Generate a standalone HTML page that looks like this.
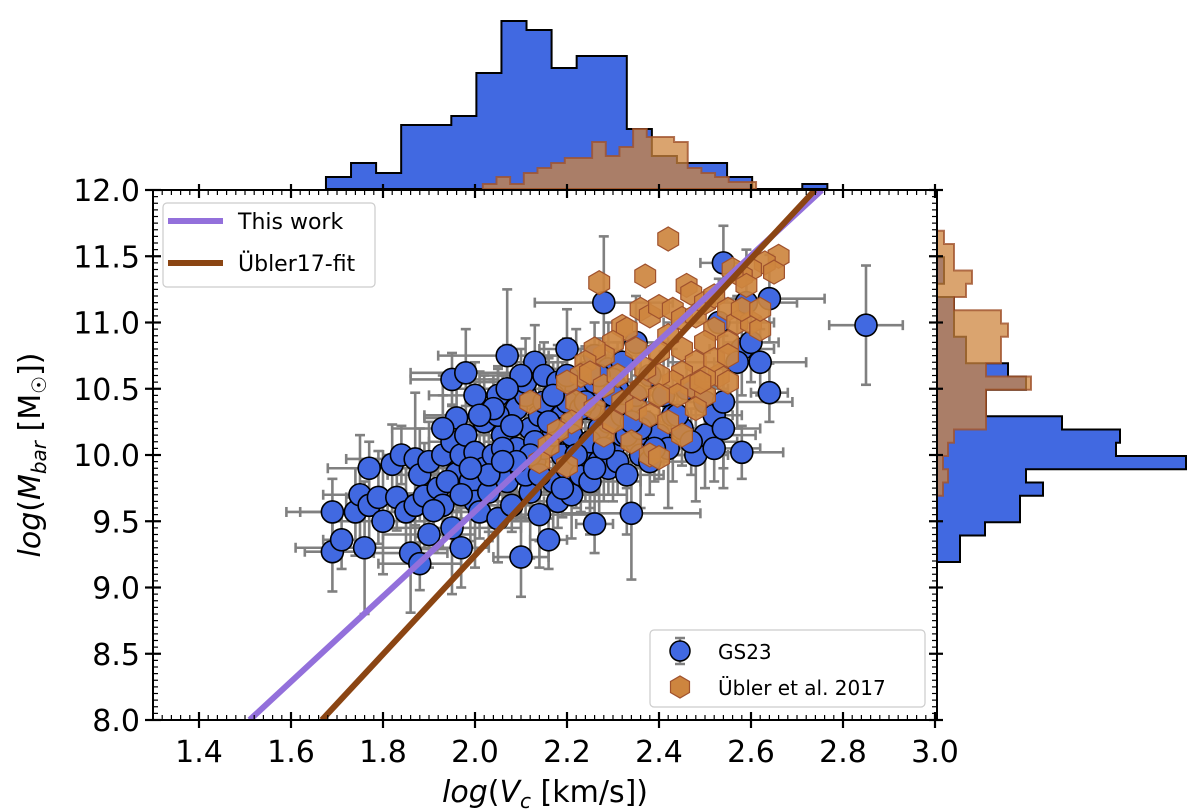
<!DOCTYPE html>
<html><head><meta charset="utf-8"><style>
html,body{margin:0;padding:0;background:#fff;}
svg{display:block;font-family:"DejaVu Sans","Liberation Sans",sans-serif;}
</style></head><body>
<svg id="chart" width="1200" height="811" viewBox="0 0 1200 811" xmlns="http://www.w3.org/2000/svg">
<defs><clipPath id="clip"><rect x="153" y="190" width="784" height="530"/></clipPath></defs>
<g id="tophist"></g>
<g id="righthist"></g>
<rect x="153" y="190" width="784" height="530" fill="#fff"/>
<g id="errs" clip-path="url(#clip)"></g>
<g id="blue" clip-path="url(#clip)"></g>
<g id="orange" clip-path="url(#clip)"></g>
<g id="lines" clip-path="url(#clip)"></g>
<rect x="153" y="190" width="784" height="530" fill="none" stroke="#000" stroke-width="2"/>
<g id="ticks"></g>
<g>
<rect x="163" y="203" width="212" height="84" rx="4" fill="#fff" fill-opacity="0.85" stroke="#ccc" stroke-width="1.2"/>
<line x1="168" y1="221" x2="223" y2="221" stroke="#9370db" stroke-width="6"/>
<text x="238" y="229" font-size="22">This work</text>
<line x1="168" y1="263" x2="223" y2="263" stroke="#8b4513" stroke-width="6"/>
<text x="238" y="271" font-size="22">Übler17-fit</text>
</g>
<g>
<rect x="650" y="630" width="275" height="77" rx="4" fill="#fff" fill-opacity="0.85" stroke="#ccc" stroke-width="1.2"/>
<line x1="680" y1="638" x2="680" y2="664" stroke="#808080" stroke-width="2.5"/>
<line x1="675" y1="638" x2="685" y2="638" stroke="#808080" stroke-width="2.5"/>
<line x1="675" y1="664" x2="685" y2="664" stroke="#808080" stroke-width="2.5"/>
<circle cx="680" cy="651" r="10" fill="#4169e1" stroke="#000" stroke-width="1.5"/>
<text x="718" y="659" font-size="20">GS23</text>
<polygon id="leghex" fill="#cd853f" stroke="#a0522d" stroke-width="1.2"/>
<text x="718" y="695" font-size="20">Übler et al. 2017</text>
</g>
<text x="545" y="802" font-size="30" text-anchor="middle"><tspan font-style="italic">log</tspan>(<tspan font-style="italic">V</tspan><tspan font-style="italic" font-size="20" dy="6">c</tspan><tspan dy="-6"> [km/s])</tspan></text>
<text transform="translate(40,455) rotate(-90)" font-size="30" text-anchor="middle"><tspan font-style="italic">log</tspan>(<tspan font-style="italic">M</tspan><tspan font-style="italic" font-size="20" dy="6">bar</tspan><tspan dy="-6"> [M</tspan><tspan font-size="20" dy="6">☉</tspan><tspan dy="-6">])</tspan></text>
</svg>
<script>
const blueX=[1.69,1.69,1.71,1.74,1.75,1.76,1.77,1.77,1.79,1.80,1.82,1.83,1.84,1.85,1.86,1.87,1.87,1.88,1.88,1.89,1.90,1.90,1.92,1.93,1.93,1.95,1.95,1.95,1.96,1.96,1.97,1.97,1.98,1.98,1.99,2.00,2.00,2.01,2.02,2.02,2.03,2.04,2.05,2.05,2.06,2.07,2.07,2.08,2.09,2.09,2.10,2.10,2.11,2.11,2.12,2.12,2.13,2.13,2.14,2.14,2.15,2.15,2.16,2.16,2.17,2.17,2.18,2.18,2.19,2.19,2.20,2.20,2.21,2.21,2.22,2.22,2.23,2.24,2.24,2.25,2.25,2.26,2.26,2.27,2.27,2.28,2.28,2.29,2.29,2.30,2.30,2.31,2.32,2.32,2.33,2.34,2.34,2.35,2.35,2.36,2.37,2.38,2.38,2.40,2.42,2.43,2.45,2.46,2.48,2.50,2.50,2.52,2.52,2.53,2.54,2.54,2.54,2.58,2.58,2.59,2.60,2.62,2.64,2.64,2.85,2.57,2.26,2.10,2.05,1.93,1.91,2.00,2.30,2.41,2.20,
 2.03,2.06,2.08,2.11,2.13,2.15,2.17,2.19,2.21,2.23,2.25,2.27,2.29,2.31,2.33,2.36,2.39,2.04,2.07,2.12,2.14,2.18,2.22,2.24,2.28,2.32,2.35,1.99,2.01,2.09,2.16,2.20,2.26,2.30,2.34,2.44,2.47,1.94,1.97,2.06];
const blueY=[9.27,9.57,9.36,9.57,9.70,9.30,9.62,9.90,9.68,9.50,9.93,9.68,10.00,9.57,9.26,9.97,9.62,9.18,9.85,9.69,9.95,9.40,9.75,9.62,10.0,9.45,10.1,10.57,10.28,9.86,9.30,10.0,10.15,10.62,9.80,9.65,10.02,9.57,10.25,9.90,9.72,10.0,10.45,9.52,10.15,10.75,9.80,9.62,10.35,10.05,9.23,9.90,10.45,10.55,10.20,9.72,10.70,9.95,10.30,9.55,10.05,10.60,9.36,10.40,9.80,10.15,10.55,9.65,10.0,10.30,10.80,9.90,10.25,9.70,10.50,10.10,9.85,10.62,10.00,9.80,10.35,10.75,9.48,10.20,9.95,11.15,10.45,9.90,10.65,10.05,10.30,9.95,10.70,10.15,9.85,9.56,10.40,10.10,10.85,10.00,10.25,9.95,10.60,10.15,10.05,10.3,10.20,10.5,10.0,10.15,10.40,10.05,10.30,11.00,10.20,10.40,11.45,10.02,10.80,11.15,10.85,10.70,10.47,11.18,10.98,10.70,10.55,10.60,10.30,10.2,9.58,10.45,10.57,10.45,10.40,
 9.85,10.05,10.22,9.85,10.10,10.40,10.45,9.75,10.15,10.35,10.10,10.60,10.25,10.50,10.15,10.20,10.05,10.35,10.50,10.00,9.85,10.20,10.00,10.40,10.05,10.30,10.45,9.90,10.30,9.95,10.25,10.60,9.90,10.45,10.25,10.30,10.10,9.80,9.70,9.95];
const orangeX=[2.42,2.37,2.46,2.47,2.66,2.63,2.65,2.60,2.58,2.59,2.56,2.27,2.32,2.36,2.38,2.40,2.43,2.45,2.48,2.50,2.52,2.52,2.55,2.57,2.60,2.62,2.55,2.50,2.45,2.42,2.40,2.48,2.45,2.43,2.47,2.50,2.53,2.55,2.40,2.37,2.35,2.33,2.30,2.28,2.26,2.24,2.23,2.22,2.21,2.20,2.25,2.28,2.32,2.35,2.38,2.42,2.45,2.48,2.50,2.52,2.28,2.30,2.34,2.38,2.40,2.18,2.16,2.14,2.20,2.26,2.31,2.36,2.44,2.55,2.58,2.62,2.49,2.40,2.12];
const orangeY=[11.63,11.35,11.28,11.22,11.5,11.45,11.38,11.40,11.35,11.28,11.40,11.3,10.97,11.10,11.05,11.12,11.10,11.03,11.05,11.15,11.20,10.95,11.1,11.0,11.0,10.95,10.85,10.85,10.80,10.90,10.78,10.70,10.62,10.55,10.52,10.45,10.60,10.55,10.60,10.65,10.80,10.95,10.85,10.75,10.80,10.70,10.60,10.40,10.25,10.55,10.62,10.52,10.40,10.35,10.30,10.25,10.15,10.35,10.58,10.72,10.15,10.25,10.10,10.0,9.98,10.18,10.07,9.95,9.92,10.35,10.6,10.5,10.45,10.75,11.1,11.1,10.55,10.45,10.40];
const xErrs=[0.06,0.10,0.04,0.12,0.08,0.15,0.05,0.09,0.07,0.11];
const yErrs=[0.30,0.20,0.45,0.25,0.35,0.50,0.22,0.40,0.28,0.33];
const topBinStart=1.676, topBinW=0.0545;
const topBlue=[1.2,2.6,1.6,6.4,6.4,7.3,11.6,16.8,15.9,12.1,13.3,13.3,6.0,3.3,2.6,2.6,1.2,0,0,0.5];
const topOrgStart=2.017, topOrgW=0.0297;
const topOrange=[0.5,1.2,0.5,1.6,2.1,2.6,3.1,3.1,4.7,3.3,4.2,6.0,5.2,5.2,4.7,2.1,1.6,1.2,0.7,0.7];
const rightBinStart=9.192, rightBinW=0.1;
const rightBlue=[2.3,2.3,4.8,8.3,8.3,10.6,8.9,24.9,17.9,18.3,12.5,4.9,4.9,8.9,7.1,2.9,2.9,1.7,1.7,1.7,0,0.7,0.7,0,0];
const rightOrange=[0,0,0,0,0,0.6,1.1,0.6,1.1,1.7,4.9,4.9,4.9,9.4,4.9,6.4,6.4,7.1,6.4,1.7,2.9,3.5,1.7,1.7,0.7];
const fitThis=[1.51,8.0,2.754,12.0];
const fitUbler=[1.667,8.0,2.739,12.0];
const xTicks=[1.4,1.6,1.8,2.0,2.2,2.4,2.6,2.8,3.0];
const yTicks=[8.0,8.5,9.0,9.5,10.0,10.5,11.0,11.5,12.0];

const NS='http://www.w3.org/2000/svg';
const X=v=>153+(v-1.3)*460;
const Y=v=>190+(12-v)*132.5;
function mk(tag,attrs,parent){const e=document.createElementNS(NS,tag);for(const k in attrs)e.setAttribute(k,attrs[k]);parent.appendChild(e);return e;}

function topPath(start,w,vals){let d='M'+X(start)+',189';vals.forEach((v,i)=>{const y=189-v*10;d+=' L'+X(start+i*w)+','+y+' L'+X(start+(i+1)*w)+','+y;});d+=' L'+X(start+vals.length*w)+',189 Z';return d;}
function rightPath(start,w,vals){let d='M937,'+Y(start);vals.forEach((v,i)=>{const x=937+v*10;d+=' L'+x+','+Y(start+i*w)+' L'+x+','+Y(start+(i+1)*w);});d+=' L937,'+Y(start+vals.length*w)+' Z';return d;}
const th=document.getElementById('tophist');
let p=mk('path',{d:topPath(topBinStart,topBinW,topBlue),fill:'#4169e1',stroke:'#000','stroke-width':2},th);


p=mk('path',{d:topPath(topOrgStart,topOrgW,topOrange),fill:'#cd853f','fill-opacity':0.75,stroke:'#a0522d','stroke-opacity':0.8,'stroke-width':2},th);


const rh=document.getElementById('righthist');
p=mk('path',{d:rightPath(rightBinStart,rightBinW,rightBlue),fill:'#4169e1',stroke:'#000','stroke-width':2},rh);


p=mk('path',{d:rightPath(rightBinStart,rightBinW,rightOrange),fill:'#cd853f','fill-opacity':0.75,stroke:'#a0522d','stroke-opacity':0.8,'stroke-width':2},rh);



const eg=document.getElementById('errs');
blueX.forEach((x,i)=>{const y=blueY[i],xe=xErrs[i%xErrs.length],ye=yErrs[(i*3)%yErrs.length];
 const cx=X(x),cy=Y(y);const g=mk('g',{stroke:'#808080','stroke-width':2.6},eg);
 
 
 mk('line',{x1:X(x-xe),y1:cy,x2:X(x+xe),y2:cy},g);
 mk('line',{x1:cx,y1:Y(y-ye),x2:cx,y2:Y(y+ye)},g);
 mk('line',{x1:X(x-xe),y1:cy-5,x2:X(x-xe),y2:cy+5},g);
 mk('line',{x1:X(x+xe),y1:cy-5,x2:X(x+xe),y2:cy+5},g);
 mk('line',{x1:cx-5,y1:Y(y-ye),x2:cx+5,y2:Y(y-ye)},g);
 mk('line',{x1:cx-5,y1:Y(y+ye),x2:cx+5,y2:Y(y+ye)},g);});
const bg=document.getElementById('blue');
blueX.forEach((x,i)=>{const c=mk('circle',{cx:X(x),cy:Y(blueY[i]),r:11,fill:'#4169e1',stroke:'#000','stroke-width':1.6},bg);
 
 });
function hex(cx,cy,r){let pts=[];for(let k=0;k<6;k++){const a=Math.PI/6+k*Math.PI/3;pts.push((cx+r*Math.cos(a)).toFixed(1)+','+(cy+r*Math.sin(a)).toFixed(1));}return pts.join(' ');}
const og=document.getElementById('orange');
orangeX.forEach((x,i)=>{const h=mk('polygon',{points:hex(X(x),Y(orangeY[i]),12),fill:'#cd853f','fill-opacity':0.92,stroke:'#a0522d','stroke-width':1.2},og);
 
 });
document.getElementById('leghex').setAttribute('points',hex(680,687,11));
const lg=document.getElementById('lines');
let l=mk('line',{x1:X(fitThis[0]),y1:Y(fitThis[1]),x2:X(fitThis[2]),y2:Y(fitThis[3]),stroke:'#9370db','stroke-width':6},lg);


l=mk('line',{x1:X(fitUbler[0]),y1:Y(fitUbler[1]),x2:X(fitUbler[2]),y2:Y(fitUbler[3]),stroke:'#8b4513','stroke-width':6},lg);



const tg=document.getElementById('ticks');
for(let k=0;k<=85;k++){const v=1.3+k*0.02;const x=X(v);
 mk('line',{x1:x,y1:720,x2:x,y2:715,stroke:'#000','stroke-width':1.2},tg);
 mk('line',{x1:x,y1:190,x2:x,y2:195,stroke:'#000','stroke-width':1.2},tg);}
for(let k=0;k<=80;k++){const v=8+k*0.05;const y=Y(v);
 mk('line',{x1:153,y1:y,x2:158,y2:y,stroke:'#000','stroke-width':1.2},tg);
 mk('line',{x1:937,y1:y,x2:932,y2:y,stroke:'#000','stroke-width':1.2},tg);}
xTicks.forEach(v=>{const x=X(v);
 mk('line',{x1:x,y1:712,x2:x,y2:728,stroke:'#000','stroke-width':2.2},tg);
 mk('line',{x1:x,y1:184,x2:x,y2:198,stroke:'#000','stroke-width':2.2},tg);
 const t=mk('text',{x:x,y:762,'font-size':30,'text-anchor':'middle'},tg);t.textContent=v.toFixed(1);
 
 });
yTicks.forEach(v=>{const y=Y(v);
 mk('line',{x1:145,y1:y,x2:161,y2:y,stroke:'#000','stroke-width':2.2},tg);
 mk('line',{x1:929,y1:y,x2:943,y2:y,stroke:'#000','stroke-width':2.2},tg);
 const t=mk('text',{x:140,y:y+11,'font-size':30,'text-anchor':'end'},tg);t.textContent=v.toFixed(1);
 
 });
</script>
</body></html>
